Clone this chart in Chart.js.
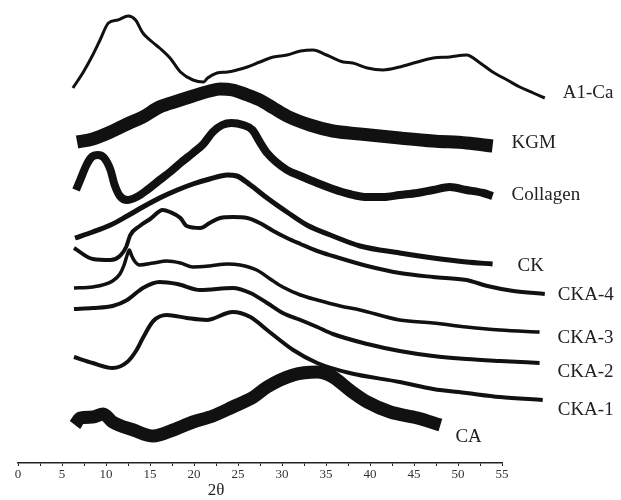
<!DOCTYPE html>
<html>
<head>
<meta charset="utf-8">
<title>XRD patterns</title>
<script src="https://cdn.jsdelivr.net/npm/chart.js@4.4.1/dist/chart.umd.min.js"></script>
<style>
    body { margin: 0; background: #fff; }
    canvas { display: block; }
</style>
</head>
<body>
<canvas id="xrdChart" width="621" height="500"></canvas>
<script>
// Sample names, top to bottom
const seriesNames = ['A1-Ca', 'KGM', 'Collagen', 'CK', 'CKA-4', 'CKA-3', 'CKA-2', 'CKA-1', 'CA'];

// 2-theta tick labels on the axis
const axisTicks = [0, 5, 10, 15, 20, 25, 30, 35, 40, 45, 50, 55];

// Each curve: 2θ (deg) and intensity (a.u., curves offset vertically)
const a1caAngle = [4.8, 5.8, 6.7, 7.4, 8.2, 9.1, 10.1, 10.8, 11.5, 12.4, 13.1, 14.1, 15.1, 16.3, 17.3, 17.7, 18.6, 19.6, 20.5, 21.5, 22.7, 24.0, 25.3, 26.6, 27.8, 29.1, 30.7, 31.6, 33.0, 34.5, 36.1, 37.8, 39.3, 40.9, 42.5, 43.8, 45.0, 46.4, 47.6, 48.9, 50.0];
const a1caInt = [375, 391, 408, 423, 440, 443, 447, 443, 430, 421, 415, 405, 391, 383, 381, 385, 390, 391, 393, 396, 401, 406, 408, 412, 413, 408, 401, 400, 395, 393, 396, 401, 405, 406, 408, 400, 391, 383, 376, 370, 365];

const kgmAngle = [5.2, 6.7, 8.4, 10.0, 11.5, 13.1, 14.8, 16.3, 17.9, 18.9, 20.1, 21.5, 22.7, 24.0, 25.3, 27.5, 29.7, 32.3, 36.1, 39.3, 42.5, 45.0];
const kgmInt = [321, 324, 331, 339, 346, 356, 362, 367, 372, 374, 373, 368, 363, 355, 347, 338, 332, 329, 325, 322, 320, 317];

const collagenAngle = [5.1, 5.5, 6.1, 6.6, 7.2, 7.8, 8.4, 8.8, 9.3, 10.0, 10.9, 11.9, 13.1, 14.1, 15.1, 16.3, 17.3, 18.2, 19.1, 20.0, 21.1, 22.0, 22.7, 23.4, 25.3, 26.6, 28.2, 29.7, 31.3, 33.0, 34.5, 36.1, 37.8, 39.3, 40.9, 42.5, 44.1, 45.0];
const collagenInt = [273, 283, 298, 306, 308, 305, 293, 278, 267, 263, 266, 273, 283, 291, 300, 310, 319, 331, 338, 340, 338, 333, 321, 310, 293, 287, 280, 274, 269, 266, 266, 268, 270, 273, 276, 273, 270, 267];

const ckAngle = [5.0, 6.7, 8.4, 10.0, 11.5, 13.1, 14.8, 16.3, 17.9, 19.6, 20.5, 21.8, 23.4, 25.3, 27.2, 29.7, 32.3, 36.1, 39.3, 42.5, 45.0];
const ckInt = [225, 231, 238, 247, 256, 265, 273, 279, 284, 288, 287, 278, 265, 251, 238, 227, 217, 210, 205, 201, 199];

const cka4Angle = [4.9, 6.7, 8.4, 9.3, 9.9, 10.3, 11.2, 12.2, 13.4, 14.1, 15.1, 15.7, 17.0, 17.9, 18.9, 20.1, 21.5, 22.7, 24.0, 25.3, 26.6, 28.2, 29.7, 33.0, 36.1, 39.3, 42.5, 44.5, 47.0, 50.0];
const cka4Int = [215, 204, 203, 207, 216, 228, 237, 244, 253, 251, 245, 237, 235, 240, 245, 246, 245, 240, 232, 225, 219, 212, 207, 197, 190, 186, 183, 177, 172, 169];

const cka3Angle = [4.9, 6.7, 8.6, 9.3, 9.7, 10.0, 10.2, 10.4, 10.7, 11.2, 12.5, 13.8, 15.1, 16.3, 17.9, 19.6, 20.8, 22.4, 23.7, 24.9, 26.6, 28.2, 30.4, 32.3, 36.1, 39.3, 42.5, 45.7, 49.5];
const cka3Int = [175, 176, 182, 189, 198, 208, 213, 208, 202, 198, 200, 202, 200, 196, 197, 199, 198, 193, 184, 176, 168, 163, 157, 153, 143, 140, 136, 133, 131];

const cka2Angle = [4.9, 6.7, 8.6, 10.0, 11.5, 13.1, 14.8, 17.0, 20.1, 21.8, 23.4, 24.9, 26.6, 28.2, 29.7, 33.0, 36.1, 39.3, 42.5, 45.7, 49.5];
const cka2Int = [154, 155, 157, 163, 175, 181, 179, 173, 175, 170, 160, 150, 143, 136, 129, 119, 112, 107, 104, 102, 100];

const cka1Angle = [4.9, 6.7, 8.6, 10.0, 10.9, 11.5, 12.5, 13.8, 15.7, 17.6, 20.1, 21.8, 23.4, 25.9, 28.2, 31.3, 36.1, 39.3, 42.5, 45.7, 49.8];
const cka1Int = [106, 100, 95, 101, 113, 125, 142, 148, 145, 143, 151, 146, 133, 113, 100, 90, 81, 74, 70, 66, 63];

const caAngle = [5.0, 5.5, 6.7, 7.7, 8.6, 10.6, 12.5, 14.4, 16.3, 18.2, 20.1, 22.1, 23.4, 25.9, 28.2, 29.7, 31.3, 33.0, 35.2, 37.8, 40.0];
const caInt = [38, 45, 46, 49, 41, 33, 27, 33, 41, 47, 56, 66, 76, 88, 91, 86, 73, 61, 51, 45, 38];

const angles = [a1caAngle, kgmAngle, collagenAngle, ckAngle, cka4Angle, cka3Angle, cka2Angle, cka1Angle, caAngle];
const intensities = [a1caInt, kgmInt, collagenInt, ckInt, cka4Int, cka3Int, cka2Int, cka1Int, caInt];

// Styling: the noisy traces are drawn as thick strokes
const lineWidths = [3, 13, 8, 5, 4, 3.5, 4, 4, 13];
const labelOffsets = [[18, -5], [19, -3], [19, -1], [25, 2], [13, 1], [18, 6], [18, 9], [15, 10], [15, 12]];

const datasets = seriesNames.map((name, i) => ({
    label: name,
    data: angles[i].map((a, j) => ({ x: a, y: intensities[i][j] })),
    borderColor: '#111',
    borderWidth: lineWidths[i],
    pointRadius: 0,
    cubicInterpolationMode: 'monotone',
    borderJoinStyle: 'round',
    borderCapStyle: 'butt',
    clip: false,
    xAxisID: 'x',
    yAxisID: 'y'
}));

// Curve names at the right end of each trace, and the 2θ axis title
const curveLabels = {
    id: 'curveLabels',
    afterDatasetsDraw(chart) {
        const c = chart.ctx;
        c.save();
        c.fillStyle = '#222';
        c.font = '19px "Liberation Serif", "DejaVu Serif", serif';
        c.textBaseline = 'middle';
        c.textAlign = 'left';
        chart.data.datasets.forEach((ds, i) => {
            const pts = chart.getDatasetMeta(i).data;
            const last = pts[pts.length - 1];
            c.fillText(ds.label, last.x + labelOffsets[i][0], last.y + labelOffsets[i][1]);
        });
        const xt = chart.scales.xt;
        c.font = '17px "Liberation Serif", "DejaVu Serif", serif';
        c.textAlign = 'center';
        c.fillText('2θ', xt.getPixelForValue(22.5), chart.chartArea.bottom + 28);
        c.restore();
    }
};

const ctx = document.getElementById('xrdChart').getContext('2d');
const xrdChart = new Chart(ctx, {
    type: 'line',
    data: { datasets: datasets },
    options: {
        responsive: false,
        animation: false,
        layout: { padding: { left: 18, right: 119, top: 0, bottom: 0 } },
        plugins: {
            legend: { display: false },
            tooltip: { enabled: false }
        },
        scales: {
            // data axis: the traces sit a little right of the printed axis,
            // range set after data limits so points past the right edge still draw
            x: {
                type: 'linear',
                bounds: 'data',
                display: false,
                afterDataLimits: scale => {
                    scale.min = -0.46;
                    scale.max = 45.9;
                }
            },
            xt: {
                type: 'linear',
                position: 'bottom',
                min: axisTicks[0],
                max: axisTicks[axisTicks.length - 1],
                afterBuildTicks: scale => {
                    const t = [];
                    for (let v = axisTicks[0]; v <= axisTicks[axisTicks.length - 1]; v += 2.5) t.push({ value: v });
                    scale.ticks = t;
                },
                afterFit: scale => { scale.height = 37; },
                ticks: {
                    autoSkip: false,
                    maxRotation: 0,
                    padding: 1,
                    color: '#333',
                    font: { family: '"Liberation Serif", serif', size: 13 },
                    callback: v => axisTicks.includes(v) ? String(v) : ''
                },
                grid: { drawOnChartArea: false, tickLength: 3, color: '#222' },
                border: { color: '#222', width: 1.5 }
            },
            y: {
                min: 0,
                max: 463,
                display: false
            }
        }
    },
    plugins: [curveLabels]
});
</script>
</body>
</html>
